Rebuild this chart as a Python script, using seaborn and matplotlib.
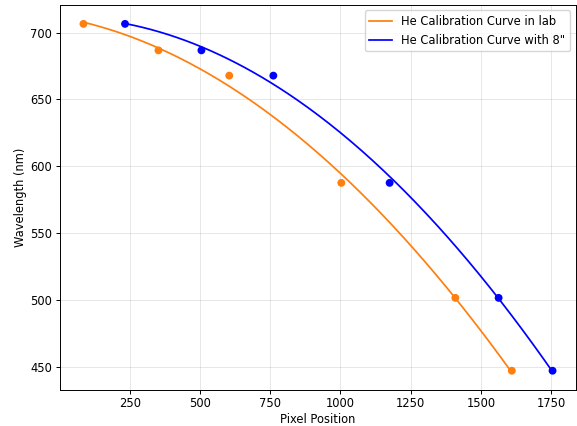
import numpy as np
import pandas as pd
import matplotlib
matplotlib.use("Agg")
import matplotlib.pyplot as plt
import seaborn as sns

wavelengths = [706.5, 686.7, 667.8, 587.6, 501.6, 447.1]
pixels_lab = [85, 352, 604, 1003, 1409, 1610]
pixels_8in = [233, 505, 761, 1175, 1563, 1755]

label_lab = "He Calibration Curve in lab"
label_8in = "He Calibration Curve with 8\""
color_lab = "#ff7f0e"
color_8in = "blue"

plt.rcParams.update({
    "font.size": 8.3,
    "xtick.major.size": 2.9, "ytick.major.size": 2.9,
    "xtick.major.pad": 2.2, "ytick.major.pad": 2.9,
    "axes.linewidth": 0.7, "xtick.major.width": 0.7, "ytick.major.width": 0.7,
    "axes.labelpad": 2.2,
})

fig = plt.figure(figsize=(5.77, 4.26), dpi=100)
ax = fig.add_axes([60/577, 1 - 390/426, 516/577, (390 - 4.7)/426])

for px, lab, col in [(pixels_lab, label_lab, color_lab), (pixels_8in, label_8in, color_8in)]:
    coef = np.polyfit(px, wavelengths, 2)
    xs = np.linspace(min(px), max(px), 200)
    curve = pd.DataFrame({"x": xs, "y": np.polyval(coef, xs)})
    sns.lineplot(data=curve, x="x", y="y", color=col, label=lab, ax=ax, linewidth=1.25)
    pts = pd.DataFrame({"x": px, "y": wavelengths})
    sns.scatterplot(data=pts, x="x", y="y", color=col, ax=ax, s=32, edgecolor="none", zorder=3)

ax.grid(True, alpha=0.3, linewidth=0.7)
ax.set_xlabel("Pixel Position")
ax.set_ylabel("Wavelength (nm)")
ax.set_xticks([250, 500, 750, 1000, 1250, 1500, 1750])
ax.legend(loc="upper right")
fig.savefig("out.png", dpi=100)
